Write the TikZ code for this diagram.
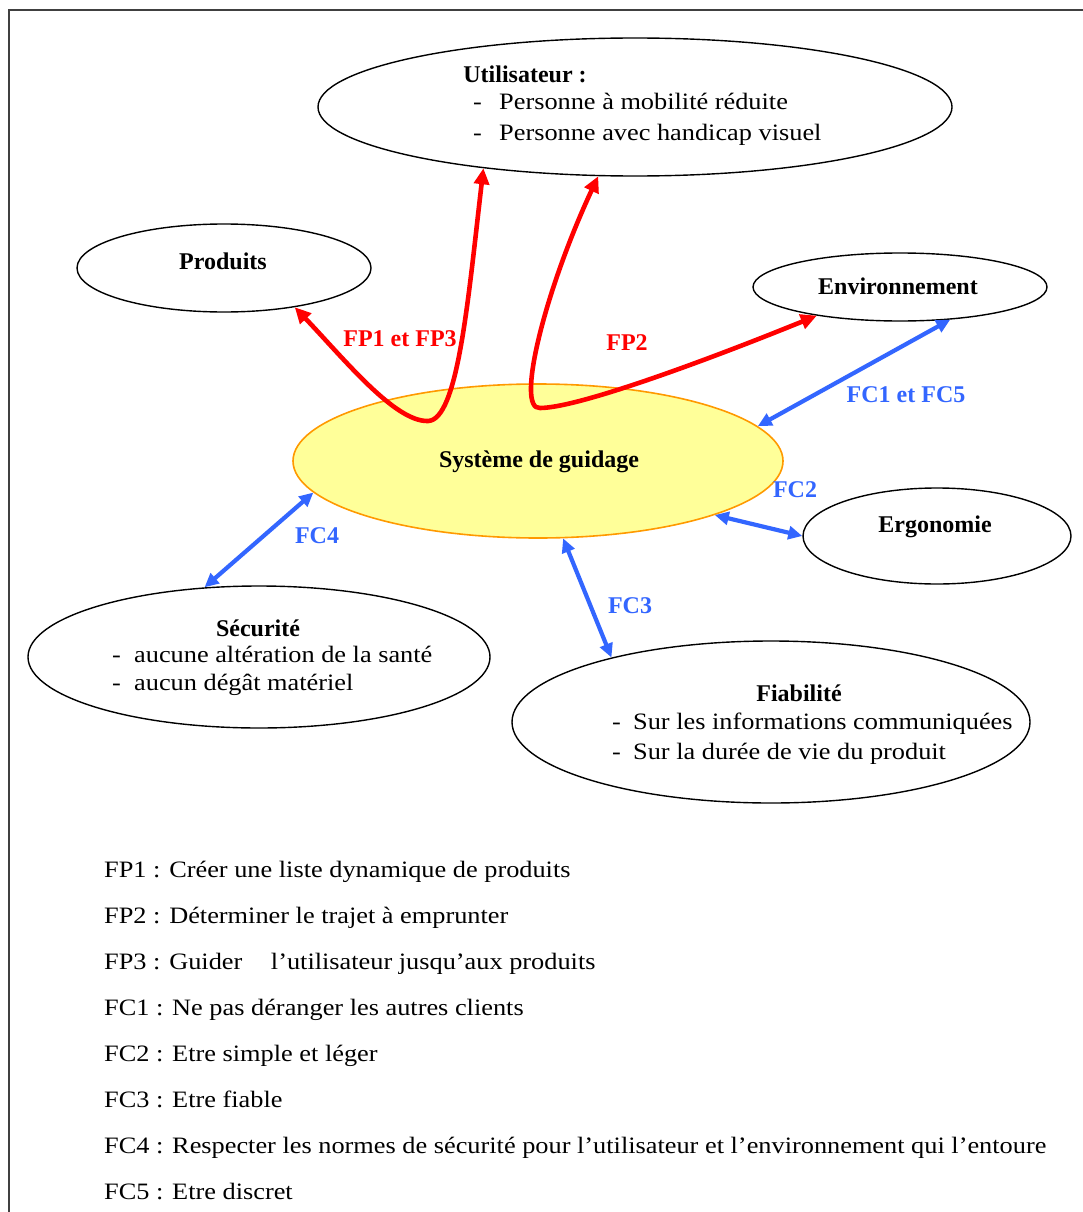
\documentclass[tikz,border=0pt]{standalone}
\usepackage{fontspec}
\setmainfont{Liberation Serif}
\newfontfamily\regf[FakeStretch=1.12]{Liberation Serif}
\usetikzlibrary{shapes.geometric,arrows.meta}
\definecolor{fpred}{RGB}{255,0,0}
\definecolor{fcblue}{RGB}{51,102,255}
\definecolor{sysfill}{RGB}{255,255,153}
\definecolor{sysdraw}{RGB}{255,153,0}
\definecolor{framec}{RGB}{64,64,64}
\begin{document}
\begin{tikzpicture}[x=1pt,y=-1pt,
  ell/.style={ellipse, draw=black, line width=1.4pt, inner sep=0pt},
  bt/.style={font=\fontsize{24}{28}\selectfont\bfseries, inner sep=0pt, anchor=base},
  rt/.style={font=\regf\fontsize{23.5}{28}\selectfont, inner sep=0pt, anchor=base west},
  redarr/.style={draw=fpred, line width=4.6pt, line join=round,
     arrows={Triangle[length=16pt,width=15pt]-Triangle[length=16pt,width=15pt]}},
  bluearr/.style={draw=fcblue, line width=4.2pt,
     arrows={Triangle[length=14pt,width=13pt]-Triangle[length=14pt,width=13pt]}},
  redlab/.style={bt, text=fpred},
  bluelab/.style={bt, text=fcblue}]
\useasboundingbox (0,0) rectangle (1082,1212);
\fill[white] (0,0) rectangle (1082,1212);
% frame (only top and left edges visible)
\draw[framec, line width=2.5pt] (9,1230) -- (9,10) -- (1100,10);

% ellipses
\node[ell, minimum width=634pt, minimum height=138pt] (util) at (635,107) {};
\node[ell, minimum width=294pt, minimum height=88pt] (prod) at (224,268) {};
\node[ell, minimum width=294pt, minimum height=68pt] (env) at (900,287) {};
\node[ellipse, draw=sysdraw, fill=sysfill, line width=1.6pt, inner sep=0pt,
      minimum width=490pt, minimum height=154pt] (sys) at (538,461) {};
\node[ell, minimum width=268pt, minimum height=96pt] (ergo) at (937,536) {};
\node[ell, minimum width=462pt, minimum height=142pt] (secu) at (259,657) {};
\node[ell, minimum width=518pt, minimum height=162pt] (fiab) at (771,722) {};

% texts in ellipses
\node[bt] (utilT) at (525,83) {Utilisateur :};
\node[rt] (utilA) at (473,110) {\makebox[26pt][l]{-}Personne à mobilité réduite};
\node[rt] (utilB) at (473,140) {\makebox[26pt][l]{-}Personne avec handicap visuel};
\node[bt] (prodT) at (223,269) {Produits};
\node[bt] (envT) at (898,294) {Environnement};
\node[bt] (sysT) at (539,467) {Système de guidage};
\node[bt] (ergoT) at (935,532) {Ergonomie};
\node[bt] (secuT) at (258,636) {Sécurité};
\node[rt] (secuA) at (112,662) {\makebox[22pt][l]{-}aucune altération de la santé};
\node[rt] (secuB) at (112,690) {\makebox[22pt][l]{-}aucun dégât matériel};
\node[bt] (fiabT) at (799,701) {Fiabilité};
\node[rt] (fiabA) at (612,729) {\makebox[21pt][l]{-}Sur les informations communiquées};
\node[rt] (fiabB) at (612,759) {\makebox[21pt][l]{-}Sur la durée de vie du produit};

% red connectors
\coordinate (fa) at (428,421);
\coordinate (fb) at (540,408);
\draw[redarr] (prod.-29) .. controls (345,360) and (395,422) .. (fa)
   .. controls (458,420) and (468,300) .. (util.202);
\draw[redarr] (util.242) .. controls (545,290) and (515,410) .. (fb)
   .. controls (580,408) and (720,355) .. (env.199);
\node[redlab] (lfp13) at (400,346) {FP1 et FP3};
\node[redlab] (lfp2) at (627,350) {FP2};

% blue connectors
\draw[bluearr] (env.-33) -- (sys.9.5);
\draw[bluearr] (sys.-17) -- (ergo.west);
\draw[bluearr] (sys.188) -- (secu.128);
\draw[bluearr] (sys.-72) -- (fiab.158);
\node[bluelab] (lfc15) at (906,402) {FC1 et FC5};
\node[bluelab] (lfc2) at (795,497) {FC2};
\node[bluelab] (lfc4) at (317,543) {FC4};
\node[bluelab] (lfc3) at (630,613) {FC3};

% legend
\node[rt] (leg1) at (104,877) {FP1 : Créer une liste dynamique de produits};
\node[rt] (leg2) at (104,923) {FP2 : Déterminer le trajet à emprunter};
\node[rt] (leg3) at (104,969) {FP3 : Guider\hspace{22pt} l’utilisateur jusqu’aux produits};
\node[rt] (leg4) at (104,1015) {FC1 : Ne pas déranger les autres clients};
\node[rt] (leg5) at (104,1061) {FC2 : Etre simple et léger};
\node[rt] (leg6) at (104,1107) {FC3 : Etre fiable};
\node[rt] (leg7) at (104,1153) {FC4 : Respecter les normes de sécurité pour l’utilisateur et l’environnement qui l’entoure};
\node[rt] (leg8) at (104,1199) {FC5 : Etre discret};
\end{tikzpicture}
\end{document}
